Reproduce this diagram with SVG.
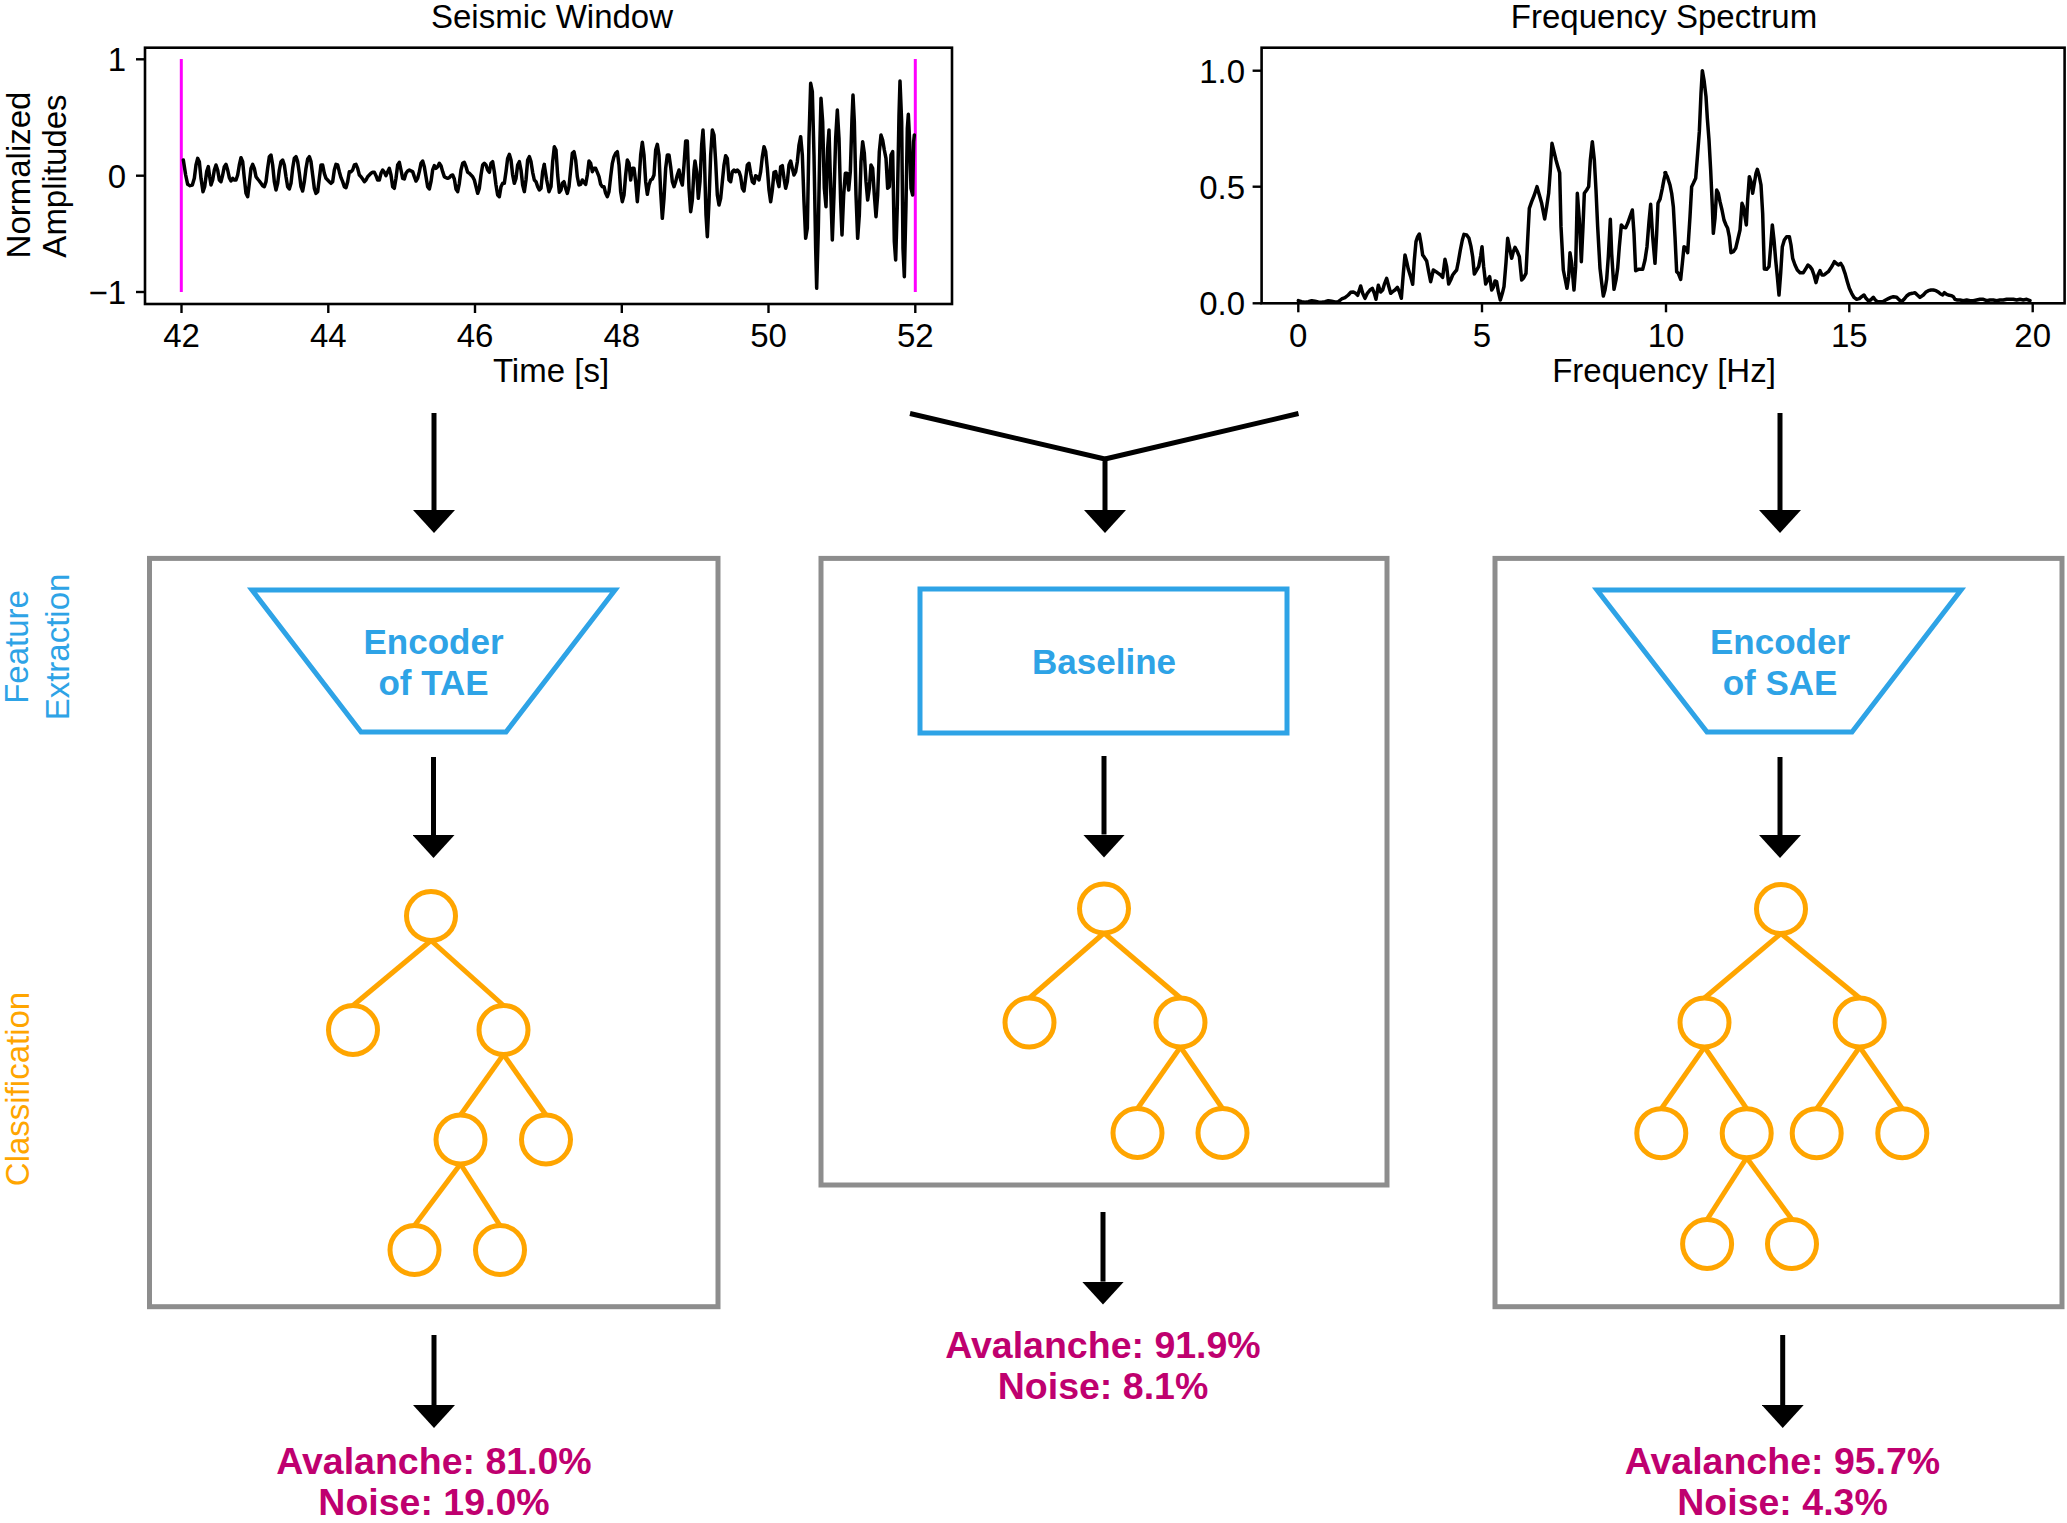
<svg xmlns="http://www.w3.org/2000/svg" width="2067" height="1523" viewBox="0 0 2067 1523">
<style>
text{font-family:"Liberation Sans",Arial,sans-serif}
.ax{fill:none;stroke:#000;stroke-width:2.6}
.tk{stroke:#000;stroke-width:2.4}
.tl{font-size:33px;fill:#000}
.lab{font-size:33px;fill:#000}
.sig{fill:none;stroke:#000;stroke-width:3.5;stroke-linejoin:round;stroke-linecap:round}
.box{fill:none;stroke:#8d8d8d;stroke-width:5}
.enc{fill:none;stroke:#2EA3E6;stroke-width:5}
.enct{font-size:35px;font-weight:bold;fill:#2EA3E6;text-anchor:middle}
.tn{fill:none;stroke:#FFA500;stroke-width:5}
.te{stroke:#FFA500;stroke-width:5}
.res{font-size:37.5px;font-weight:bold;fill:#BF006F;text-anchor:middle}
.side{font-size:33px;text-anchor:middle}
.con{fill:none;stroke:#000;stroke-width:5}
</style>
<defs>
<marker id="ah" viewBox="0 -21 23 42" refX="0" refY="0" markerWidth="23" markerHeight="42" markerUnits="userSpaceOnUse" orient="auto">
<path d="M0,-21 L23,0 L0,21 z" fill="#000"/>
</marker>
</defs>
<rect width="2067" height="1523" fill="#fff"/>

<g id="seismic-plot">
<text class="lab" x="552" y="27.5" text-anchor="middle">Seismic Window</text>
<line x1="181.3" y1="59" x2="181.3" y2="292" stroke="#FF00FF" stroke-width="3"/>
<line x1="915.3" y1="59" x2="915.3" y2="292" stroke="#FF00FF" stroke-width="3"/>
<polyline class="sig" vector-effect="non-scaling-stroke" transform="translate(175,55) scale(0.33333)" points="25,315 32,360 38,388 45,392 52,390 58,370 63,330 68,310 73,320 78,370 84,410 89,395 95,350 100,335 104,365 108,390 113,375 118,345 123,330 128,345 133,375 138,380 143,360 148,335 153,328 158,345 163,368 168,378 173,370 178,375 183,375 188,360 193,330 198,308 203,320 208,370 213,415 218,425 223,385 228,340 233,328 238,340 243,365 248,372 253,378 258,385 263,392 268,395 273,380 278,340 283,305 288,300 293,330 298,380 303,405 308,385 313,345 318,320 323,315 328,330 333,365 338,395 343,402 348,385 353,340 358,310 363,305 368,320 373,355 378,395 383,408 388,380 393,340 398,312 403,305 408,320 413,360 418,400 423,415 428,410 433,370 438,330 443,330 448,355 453,370 458,375 463,380 468,385 473,380 478,345 483,328 488,330 493,350 498,368 503,380 508,395 513,398 518,380 523,350 528,350 533,345 538,330 543,328 548,340 553,360 558,365 563,372 568,380 573,375 578,365 583,360 588,355 593,352 598,352 603,362 608,375 613,375 618,355 623,345 628,352 633,362 638,350 643,340 648,360 653,395 658,400 663,370 668,330 673,322 678,345 683,370 688,372 693,355 698,348 703,345 708,348 713,350 718,365 723,378 728,370 733,350 738,325 743,318 748,335 753,365 758,395 763,402 768,380 773,345 778,332 783,340 788,335 793,325 798,332 803,350 808,365 813,368 818,370 823,368 828,362 833,360 838,372 843,402 848,410 853,385 858,345 863,325 868,322 873,335 878,352 883,355 888,360 893,365 898,375 903,395 908,415 913,400 918,360 923,330 928,325 933,330 938,345 943,352 948,325 953,320 958,350 963,390 968,420 973,425 978,395 983,385 988,385 993,350 998,310 1003,298 1008,315 1013,360 1018,385 1023,370 1028,330 1033,320 1038,345 1043,390 1048,410 1053,375 1058,315 1063,305 1068,320 1073,352 1078,375 1083,380 1088,395 1093,405 1098,400 1103,350 1108,328"/>
<polyline class="sig" vector-effect="non-scaling-stroke" transform="translate(545,55) scale(0.33333)" points="-2,330 5,375 12,410 18,395 23,320 28,275 33,285 38,360 43,412 48,405 52,385 57,380 62,400 67,415 72,395 77,345 82,295 87,290 92,315 97,365 102,390 107,388 112,375 117,382 122,388 127,360 132,318 137,325 142,350 147,340 152,340 157,352 162,365 167,388 172,395 177,395 182,415 187,425 192,410 197,365 202,325 207,305 212,295 217,290 222,330 227,410 232,440 237,420 242,360 247,315 252,325 257,375 262,340 267,340 272,380 277,440 282,380 287,300 292,262 297,300 302,380 307,418 312,390 317,375 322,372 327,360 332,285 337,268 342,300 347,410 352,490 357,430 362,340 367,300 372,300 377,335 382,380 387,395 392,380 397,360 402,345 407,375 412,390 417,330 422,258 427,258 432,400 437,470 442,435 447,345 450,318 455,350 460,430 465,380 470,270 474,225 478,300 483,480 487,545 492,440 497,300 502,225 507,240 512,320 517,420 522,450 527,430 532,380 537,330 542,302 547,310 552,375 557,380 562,350 567,345 572,350 577,345 582,350 587,365 592,400 597,408 602,370 607,330 612,325 617,355 622,380 627,385 632,362 637,365 642,375 647,350 652,305 657,275 662,290 667,340 672,405 677,440 682,405 687,352 692,350 697,375 702,395 707,335 712,332 717,370 722,400 727,380 732,330 737,318 742,340 747,360 752,350 757,320 762,270 767,245 772,300 777,440 782,550 787,520 792,250 797,85 802,110 807,300 812,580 815,700 820,520 825,250 828,130 833,200 838,400 843,455 848,280 852,225 857,400 862,555 867,420 872,250 877,165 882,250 887,440 891,540 896,420 901,355 906,355 911,405 916,350 921,190 924,120 928,200 933,420 938,550 943,480 948,320 953,260 958,295 963,380 968,435 973,400 978,330 983,340 988,420 993,485 998,420 1003,290 1008,240 1013,255 1018,285 1023,310 1028,400 1033,395 1038,300 1043,290 1048,560 1052,615 1057,450 1062,180 1065,78 1070,200 1074,580 1078,665 1083,450 1087,220 1090,178 1094,260 1098,400 1103,420 1106,260 1108,240"/>
<rect class="ax" x="145" y="47.7" width="807" height="256.3"/>
<g class="tk">
<line x1="136" y1="59.3" x2="145" y2="59.3"/><line x1="136" y1="175.7" x2="145" y2="175.7"/><line x1="136" y1="292" x2="145" y2="292"/>
<line x1="181.5" y1="304" x2="181.5" y2="313"/><line x1="328.3" y1="304" x2="328.3" y2="313"/><line x1="475" y1="304" x2="475" y2="313"/><line x1="621.8" y1="304" x2="621.8" y2="313"/><line x1="768.5" y1="304" x2="768.5" y2="313"/><line x1="915.3" y1="304" x2="915.3" y2="313"/>
</g>
<g class="tl" text-anchor="end">
<text x="126" y="71">1</text><text x="126" y="187.5">0</text><text x="126" y="304">−1</text>
</g>
<g class="tl" text-anchor="middle">
<text x="181.5" y="347">42</text><text x="328.3" y="347">44</text><text x="475" y="347">46</text><text x="621.8" y="347">48</text><text x="768.5" y="347">50</text><text x="915.3" y="347">52</text>
</g>
<text class="lab" x="551" y="382" text-anchor="middle">Time [s]</text>
<text class="lab" text-anchor="middle" transform="translate(30,175) rotate(-90)">Normalized</text>
<text class="lab" text-anchor="middle" transform="translate(66,176) rotate(-90)">Amplitudes</text>
</g>

<g id="spectrum-plot">
<text class="lab" x="1664" y="27.5" text-anchor="middle">Frequency Spectrum</text>
<polyline class="sig" vector-effect="non-scaling-stroke" transform="translate(1290,60) scale(0.33333)" points="25,722 35,725 45,727 55,725 65,722 75,724 85,726 95,727 105,725 115,722 125,724 135,726 145,725 155,717 165,713 175,705 182,697 190,696 197,700 203,706 212,678 218,700 225,715 232,700 240,690 247,685 253,700 258,718 265,676 272,696 278,690 284,670 290,655 296,678 302,700 308,695 315,690 322,682 328,695 334,715 340,640 345,585 350,605 355,628 362,650 368,673 373,600 378,545 383,530 388,522 393,550 398,585 403,592 410,603 416,635 422,665 430,630 438,635 445,640 452,645 458,652 465,598 470,620 476,672 482,660 488,645 494,637 500,630 505,605 511,570 517,540 522,523 530,525 537,535 543,560 548,590 553,642 560,630 566,620 572,588 576,560 581,620 587,672 593,660 599,650 605,690 610,682 615,663 620,665 625,695 631,720 637,700 642,680 648,608 653,535 658,560 665,595 670,575 675,562 682,575 688,590 695,660 700,655 708,640 713,540 718,445 725,425 733,405 741,380 748,405 755,430 764,477 770,440 776,400 781,330 786,250 792,275 798,300 803,318 809,338 813,500 820,630 826,660 831,685 836,650 840,578 845,610 852,690 857,620 862,400 868,480 874,605 879,500 883,400 890,390 896,380 901,300 907,245 913,300 918,390 923,500 930,625 935,668 940,708 945,690 950,658 955,590 961,478 965,580 972,688 978,660 983,625 988,560 994,495 1000,502 1007,503 1013,490 1020,470 1027,450 1032,520 1037,632 1045,628 1052,628 1058,628 1065,600 1071,560 1077,485 1082,433 1088,530 1095,610 1100,520 1104,430 1110,418 1117,385 1122,358 1127,338"/>
<polyline class="sig" vector-effect="non-scaling-stroke" transform="translate(1660,60) scale(0.33333)" points="15,338 22,350 30,375 35,400 40,440 45,530 50,635 55,640 62,658 67,610 72,560 78,565 83,578 90,470 95,380 100,370 107,355 113,280 118,215 123,100 127,32 132,60 138,110 142,175 147,240 152,330 157,440 160,520 165,475 170,390 175,400 180,425 186,450 192,480 198,495 203,505 208,530 213,578 220,575 227,565 233,540 240,510 246,430 250,440 255,470 259,495 263,420 268,350 273,365 278,400 283,370 288,340 292,328 297,345 303,375 308,460 313,627 320,628 327,620 332,560 337,495 342,540 347,600 352,650 357,705 362,640 367,560 373,540 380,530 388,530 393,555 398,595 405,615 412,630 420,638 430,638 438,625 444,615 450,620 456,628 462,645 468,668 474,645 480,632 486,645 492,645 498,640 505,635 512,625 518,615 523,605 529,610 535,615 542,610 548,620 555,640 562,665 568,685 575,700 582,712 590,718 598,716 605,710 612,705 618,715 625,722 632,720 640,712 646,720 652,725 660,725 668,725 677,720 685,716 693,712 700,710 710,712 718,720 725,725 732,718 740,708 748,702 757,700 765,698 772,705 780,712 790,705 797,697 805,692 813,690 820,690 828,692 836,697 842,702 848,705 853,698 860,703 868,706 875,707 880,710 885,718 892,720 900,720 910,722 920,720 930,722 940,722 950,720 960,718 970,718 980,722 990,720 1000,720 1010,722 1020,720 1030,720 1040,718 1050,718 1060,718 1070,720 1080,718 1090,720 1100,718 1110,722"/>
<rect class="ax" x="1261.6" y="47.7" width="803" height="255.6"/>
<g class="tk">
<line x1="1252.6" y1="70.7" x2="1261.6" y2="70.7"/><line x1="1252.6" y1="186.7" x2="1261.6" y2="186.7"/><line x1="1252.6" y1="303.3" x2="1261.6" y2="303.3"/>
<line x1="1298.3" y1="303.3" x2="1298.3" y2="312.3"/><line x1="1482" y1="303.3" x2="1482" y2="312.3"/><line x1="1666" y1="303.3" x2="1666" y2="312.3"/><line x1="1849.3" y1="303.3" x2="1849.3" y2="312.3"/><line x1="2032.7" y1="303.3" x2="2032.7" y2="312.3"/>
</g>
<g class="tl" text-anchor="end">
<text x="1245" y="82.5">1.0</text><text x="1245" y="198.5">0.5</text><text x="1245" y="315">0.0</text>
</g>
<g class="tl" text-anchor="middle">
<text x="1298.3" y="347">0</text><text x="1482" y="347">5</text><text x="1666" y="347">10</text><text x="1849.3" y="347">15</text><text x="2032.7" y="347">20</text>
</g>
<text class="lab" x="1664" y="382" text-anchor="middle">Frequency [Hz]</text>
</g>

<g id="side-labels">
<text class="side" fill="#2EA3E6" transform="translate(28,647) rotate(-90)">Feature</text>
<text class="side" fill="#2EA3E6" transform="translate(69,647) rotate(-90)">Extraction</text>
<text class="side" fill="#FFA500" transform="translate(29,1089) rotate(-90)">Classification</text>
</g>

<g id="box-tae">
<rect class="box" x="149.5" y="558.4" width="568.5" height="748.3"/>
</g>
<g id="box-baseline">
<rect class="box" x="821" y="558.4" width="566" height="626.6"/>
</g>
<g id="box-sae">
<rect class="box" x="1495" y="558.4" width="567" height="748.3"/>
</g>

<g id="encoder-tae">
<polygon class="enc" points="252,590 615,590 506,732 361,732"/>
<text class="enct" x="433.5" y="654">Encoder</text>
<text class="enct" x="433.5" y="695">of TAE</text>
</g>
<g id="baseline">
<rect class="enc" x="920" y="589" width="367" height="144"/>
<text class="enct" x="1104" y="674">Baseline</text>
</g>
<g id="encoder-sae">
<polygon class="enc" points="1597,590 1961,590 1852,732 1707,732"/>
<text class="enct" x="1780" y="654">Encoder</text>
<text class="enct" x="1780" y="695">of SAE</text>
</g>

<g id="tree-tae">
<line class="te" x1="431" y1="940.5" x2="353" y2="1005.5"/>
<line class="te" x1="431" y1="940.5" x2="503.5" y2="1005.5"/>
<line class="te" x1="503.5" y1="1054.5" x2="460.5" y2="1115"/>
<line class="te" x1="503.5" y1="1054.5" x2="546" y2="1115"/>
<line class="te" x1="460.5" y1="1164" x2="414.5" y2="1225.5"/>
<line class="te" x1="460.5" y1="1164" x2="500" y2="1225.5"/>
<circle class="tn" cx="431" cy="916" r="24.5"/>
<circle class="tn" cx="353" cy="1030" r="24.5"/>
<circle class="tn" cx="503.5" cy="1030" r="24.5"/>
<circle class="tn" cx="460.5" cy="1139.5" r="24.5"/>
<circle class="tn" cx="546" cy="1139.5" r="24.5"/>
<circle class="tn" cx="414.5" cy="1250" r="24.5"/>
<circle class="tn" cx="500" cy="1250" r="24.5"/>
</g>
<g id="tree-baseline">
<line class="te" x1="1104" y1="933" x2="1029.5" y2="998"/>
<line class="te" x1="1104" y1="933" x2="1180.5" y2="998"/>
<line class="te" x1="1180.5" y1="1047" x2="1137.5" y2="1108.5"/>
<line class="te" x1="1180.5" y1="1047" x2="1222.5" y2="1108.5"/>
<circle class="tn" cx="1104" cy="908.5" r="24.5"/>
<circle class="tn" cx="1029.5" cy="1022.5" r="24.5"/>
<circle class="tn" cx="1180.5" cy="1022.5" r="24.5"/>
<circle class="tn" cx="1137.5" cy="1133" r="24.5"/>
<circle class="tn" cx="1222.5" cy="1133" r="24.5"/>
</g>
<g id="tree-sae">
<line class="te" x1="1781" y1="933.5" x2="1704.5" y2="998"/>
<line class="te" x1="1781" y1="933.5" x2="1859.7" y2="998"/>
<line class="te" x1="1704.5" y1="1047" x2="1661.3" y2="1108.7"/>
<line class="te" x1="1704.5" y1="1047" x2="1746.7" y2="1108.7"/>
<line class="te" x1="1859.7" y1="1047" x2="1816.7" y2="1108.7"/>
<line class="te" x1="1859.7" y1="1047" x2="1902.3" y2="1108.7"/>
<line class="te" x1="1746.7" y1="1157.7" x2="1707.1" y2="1219.5"/>
<line class="te" x1="1746.7" y1="1157.7" x2="1792" y2="1219.5"/>
<circle class="tn" cx="1781" cy="909" r="24.5"/>
<circle class="tn" cx="1704.5" cy="1022.5" r="24.5"/>
<circle class="tn" cx="1859.7" cy="1022.5" r="24.5"/>
<circle class="tn" cx="1661.3" cy="1133.2" r="24.5"/>
<circle class="tn" cx="1746.7" cy="1133.2" r="24.5"/>
<circle class="tn" cx="1816.7" cy="1133.2" r="24.5"/>
<circle class="tn" cx="1902.3" cy="1133.2" r="24.5"/>
<circle class="tn" cx="1707.1" cy="1244" r="24.5"/>
<circle class="tn" cx="1792" cy="1244" r="24.5"/>
</g>

<g id="result-tae">
<text class="res" x="434" y="1473.5">Avalanche: 81.0%</text>
<text class="res" x="434" y="1514.7">Noise: 19.0%</text>
</g>
<g id="result-baseline">
<text class="res" x="1103" y="1357.6">Avalanche: 91.9%</text>
<text class="res" x="1103" y="1398.8">Noise: 8.1%</text>
</g>
<g id="result-sae">
<text class="res" x="1782.5" y="1473.5">Avalanche: 95.7%</text>
<text class="res" x="1782.5" y="1514.7">Noise: 4.3%</text>
</g>

<g id="connectors">
<line class="con" x1="434" y1="413" x2="434" y2="510" marker-end="url(#ah)"/>
<polyline class="con" points="910,413.5 1105,459 1105,510" marker-end="url(#ah)"/>
<polyline class="con" points="1298.5,413.5 1105,459"/>
<line class="con" x1="1780" y1="413" x2="1780" y2="510" marker-end="url(#ah)"/>
<line class="con" x1="433.5" y1="757" x2="433.5" y2="835" marker-end="url(#ah)"/>
<line class="con" x1="1104" y1="756" x2="1104" y2="834.5" marker-end="url(#ah)"/>
<line class="con" x1="1780" y1="757" x2="1780" y2="835" marker-end="url(#ah)"/>
<line class="con" x1="434" y1="1335" x2="434" y2="1405" marker-end="url(#ah)"/>
<line class="con" x1="1103" y1="1212" x2="1103" y2="1281.6" marker-end="url(#ah)"/>
<line class="con" x1="1782.7" y1="1335" x2="1782.7" y2="1405" marker-end="url(#ah)"/>
</g>
</svg>
